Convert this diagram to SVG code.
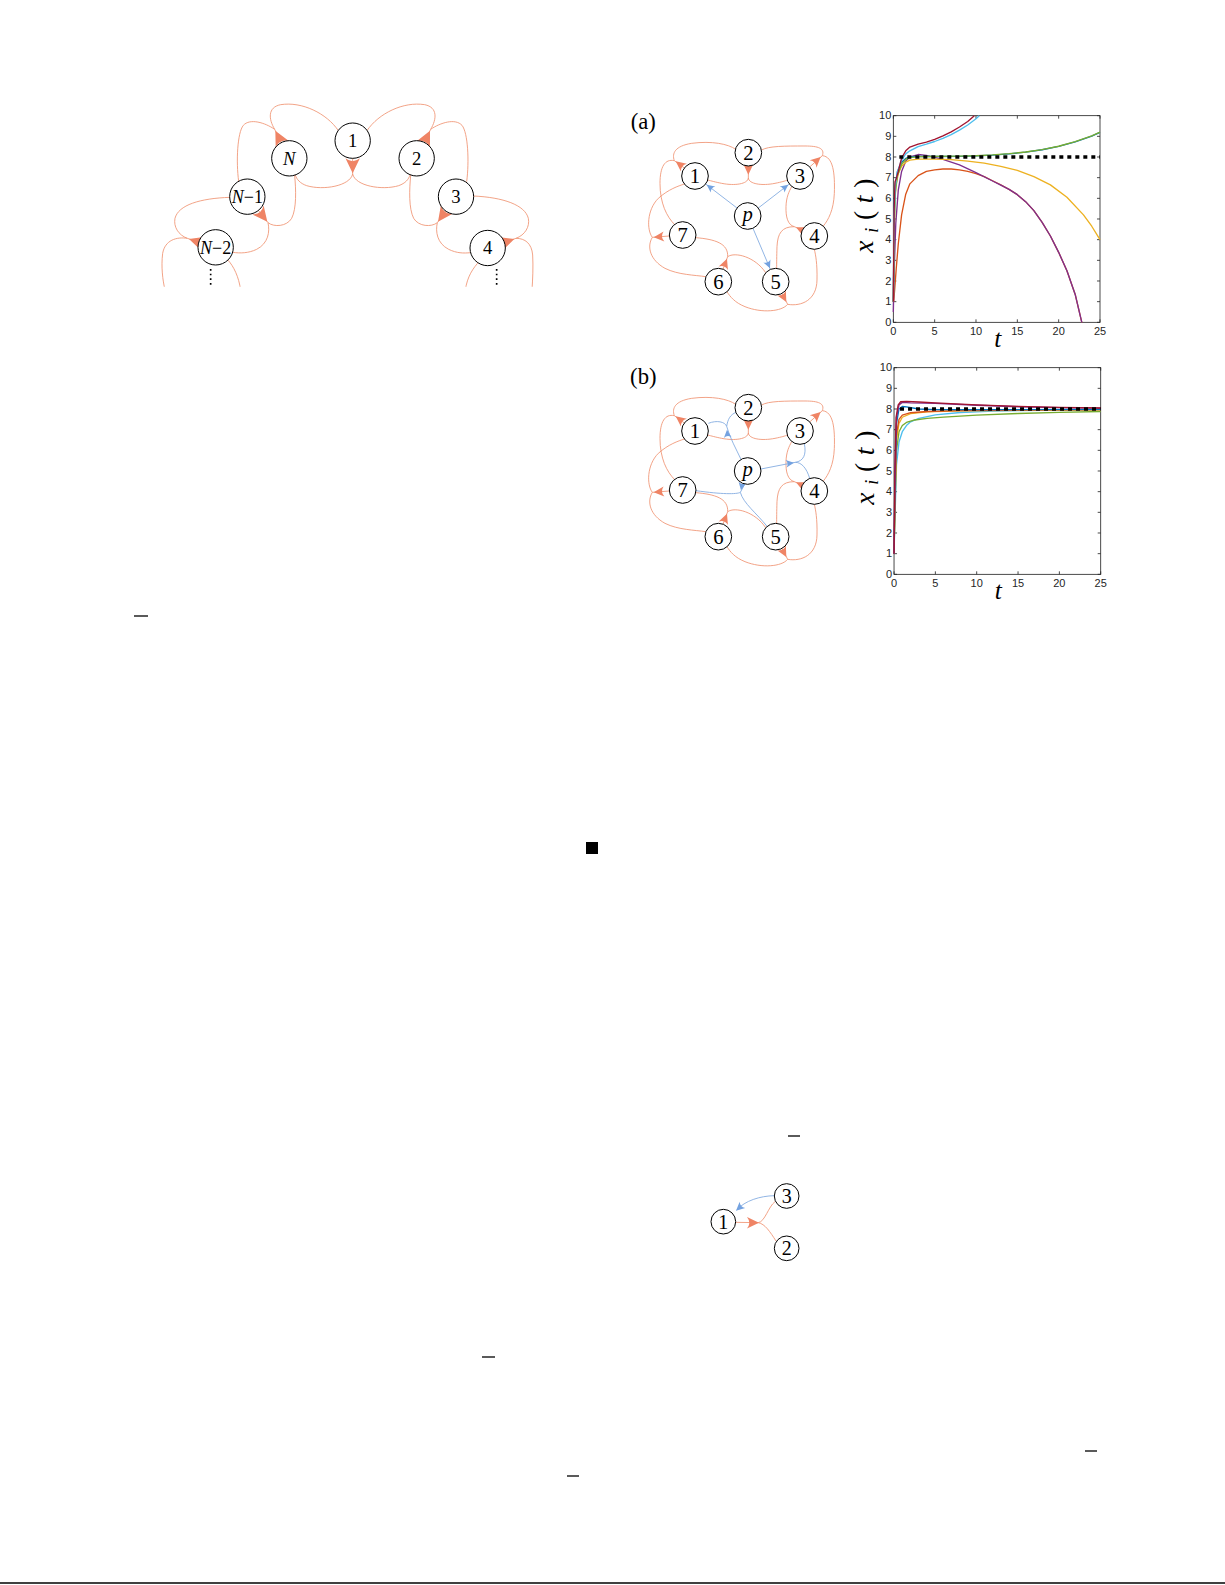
<svg xmlns="http://www.w3.org/2000/svg" xmlns:xlink="http://www.w3.org/1999/xlink" width="1225" height="1585" viewBox="0 0 1225 1585">
<style>
.oe{fill:none;stroke:#F09474;stroke-width:2.6}
.be{fill:none;stroke:#80A9E0;stroke-width:2.6}
.oa{fill:#EF8465}
.ba{fill:#74A2E0}
.nd{fill:#fff;stroke:#000;stroke-width:3}
.nl{font-family:"Liberation Serif","DejaVu Serif",serif;fill:#000;text-anchor:middle}
.it{font-style:italic}
.tk{font-family:"Liberation Sans",Arial,sans-serif;font-size:33px;fill:#262626}
.ax{fill:none;stroke:#262626;stroke-width:2.5}
.dt{fill:none;stroke:#000;stroke-width:10;stroke-dasharray:12 12}
.pl{fill:none;stroke-width:4;stroke-linejoin:round}
.vd{fill:none;stroke:#000;stroke-width:5;stroke-dasharray:5 9}
.mk{stroke:#000;stroke-width:1.3}
</style>
<defs>
<path id="ah" d="M0,0 L-1,-0.48 Q-0.62,0 -1,0.48 Z"/>
<clipPath id="c1" clipPathUnits="userSpaceOnUse"><rect x="-60" y="-60" width="1300" height="650"/></clipPath>
<g id="yt">
<path class="ax" d="M145,652 h9 M145,590 h9 M145,528 h9 M145,466 h9 M145,404 h9 M145,342 h9 M145,280 h9 M145,218 h9 M145,156 h9 M145,94 h9 M145,32 h9 M765,652 h-9 M765,590 h-9 M765,528 h-9 M765,466 h-9 M765,404 h-9 M765,342 h-9 M765,280 h-9 M765,218 h-9 M765,156 h-9 M765,94 h-9 M765,32 h-9 M145,652 v-9 M269,652 v-9 M393,652 v-9 M517,652 v-9 M641,652 v-9 M765,652 v-9 M145,32 v9 M269,32 v9 M393,32 v9 M517,32 v9 M641,32 v9 M765,32 v9"/>
<rect class="ax" x="145" y="32" width="620" height="620"/>
<g class="tk" text-anchor="end">
<text x="139" y="663">0</text><text x="139" y="601">1</text><text x="139" y="539">2</text><text x="139" y="477">3</text><text x="139" y="415">4</text><text x="139" y="353">5</text><text x="139" y="291">6</text><text x="139" y="229">7</text><text x="139" y="167">8</text><text x="139" y="105">9</text><text x="139" y="43">10</text>
</g>
<g class="tk" text-anchor="middle">
<text x="145" y="690">0</text><text x="269" y="690">5</text><text x="393" y="690">10</text><text x="517" y="690">15</text><text x="641" y="690">20</text><text x="765" y="690">25</text>
</g>
<text class="nl" font-size="82" transform="translate(84,332) rotate(-90)" textLength="222" lengthAdjust="spacing"><tspan class="it">x</tspan><tspan class="it" font-size="54" dy="14">i</tspan><tspan dy="-14">(</tspan><tspan class="it">t</tspan>)</text>
<text class="nl it" font-size="76" x="458" y="726">t</text>
</g>
</defs>

<!-- ===== Figure 1: ring hypergraph ===== -->
<g id="fig1" transform="translate(150,90) scale(0.33333)">
<g id="fig1-connectors" clip-path="url(#c1)">
<path class="oe" d="M608,205 L608,252 M608,252 C600,288 520,302 470,287 C450,280 440,268 436,255 M608,252 C616,288 696,302 746,287 C766,280 776,268 780,255"/>
<path class="oe" d="M394,158 L374,118 M374,118 C356,88 352,52 392,44 C456,34 530,70 565,122 M374,118 C345,98 300,84 280,106 C262,128 258,215 266,274"/>
<path class="oe" d="M823,157 L842,118 M842,118 C860,88 864,52 824,44 C760,34 686,70 651,122 M842,118 C871,98 916,84 936,106 C954,128 958,215 950,275"/>
<path class="oe" d="M325,361 L354,398 M354,398 C372,412 410,410 425,385 C440,355 438,300 434,256 M354,398 C360,425 355,460 320,478 C295,490 270,490 248,487"/>
<path class="oe" d="M887,363 L862,398 M862,398 C844,412 806,410 791,385 C776,355 778,300 782,256 M862,398 C856,425 861,460 896,478 C921,490 940,490 962,488"/>
<path class="oe" d="M146,456 L112,445 M112,445 C85,435 70,410 75,385 C85,345 150,325 240,322 M112,445 C80,440 45,450 38,490 C33,530 38,570 45,600"/>
<path class="oe" d="M1063,457 L1098,445 M1098,445 C1125,435 1140,410 1135,385 C1125,345 1060,322 970,318 M1098,445 C1125,445 1145,460 1148,495 C1150,530 1148,570 1146,600"/>
<path class="oe" d="M232,508 C252,530 266,560 272,600 M990,512 C968,535 952,560 946,600"/>
<use href="#ah" class="oa" transform="translate(608,250) rotate(90) scale(45)"/>
<use href="#ah" class="oa" transform="translate(376,122) rotate(-116.8) scale(45)"/>
<use href="#ah" class="oa" transform="translate(840,122) rotate(-64.2) scale(45)"/>
<use href="#ah" class="oa" transform="translate(352,395) rotate(51.5) scale(45)"/>
<use href="#ah" class="oa" transform="translate(864,395) rotate(125.7) scale(45)"/>
<use href="#ah" class="oa" transform="translate(117,447) rotate(197.6) scale(45)"/>
<use href="#ah" class="oa" transform="translate(1093,447) rotate(-18.8) scale(45)"/>
<path class="vd" d="M182,537 L182,595 M1040,537 L1040,595"/>
</g>
<g id="fig1-node-1"><circle class="nd" cx="608" cy="152" r="53"/><text class="nl" font-size="56" x="608" y="171">1</text></g>
<g id="fig1-node-N"><circle class="nd" cx="418" cy="205" r="53"/><text class="nl it" font-size="56" x="418" y="224">N</text></g>
<g id="fig1-node-2"><circle class="nd" cx="800" cy="205" r="53"/><text class="nl" font-size="56" x="800" y="224">2</text></g>
<g id="fig1-node-Nm1"><circle class="nd" cx="292" cy="320" r="53"/><text class="nl" font-size="54" x="292" y="339"><tspan class="it">N</tspan>−1</text></g>
<g id="fig1-node-3"><circle class="nd" cx="918" cy="320" r="53"/><text class="nl" font-size="56" x="918" y="339">3</text></g>
<g id="fig1-node-Nm2"><circle class="nd" cx="197" cy="472" r="53"/><text class="nl" font-size="54" x="197" y="491"><tspan class="it">N</tspan>−2</text></g>
<g id="fig1-node-4"><circle class="nd" cx="1013" cy="474" r="53"/><text class="nl" font-size="56" x="1013" y="493">4</text></g>
</g>

<!-- ===== Figure (a) graph ===== -->
<g id="figa-graph" transform="translate(615,100) scale(0.33333)">
<text class="nl" font-size="68" x="85" y="88">(a)</text>
<g id="figa-connectors">
<path class="oe" d="M208,204 L178,182 M178,182 C170,160 180,138 230,130 C290,122 340,132 362,148 M178,182 C150,176 135,200 135,250 C135,310 155,350 180,375"/>
<path class="oe" d="M400,198 L400,234 M400,234 C398,252 360,258 320,250 C300,246 290,243 278,240 M400,234 C402,252 440,258 480,250 C500,246 510,243 518,240"/>
<path class="oe" d="M584,201 L622,167 M622,167 C630,145 610,138 570,138 C510,138 460,138 440,150 M622,167 C655,170 660,220 658,280 C656,330 640,360 625,378"/>
<path class="oe" d="M562,391 L538,380 M538,380 C518,375 512,350 513,320 C514,290 522,275 530,260 M538,380 C500,380 488,400 486,440 C485,470 485,490 485,505"/>
<path class="oe" d="M501,580 L518,613 M518,613 C560,620 605,600 606,540 C607,490 602,465 598,448 M518,613 C500,635 440,640 390,620 C360,608 345,590 336,575"/>
<path class="oe" d="M324,508 L338,470 M338,470 C340,430 300,418 243,413 M338,470 C360,455 420,470 452,518"/>
<path class="oe" d="M163,408 L112,412 M112,412 C95,390 95,330 130,295 C160,268 190,258 208,252 M112,412 C95,440 105,480 150,505 C190,525 240,525 272,530"/>
<use href="#ah" class="oa" transform="translate(182,184) rotate(217.2) scale(31)"/>
<use href="#ah" class="oa" transform="translate(400,224) rotate(90) scale(31)"/>
<use href="#ah" class="oa" transform="translate(617,171) rotate(-42.6) scale(31)"/>
<use href="#ah" class="oa" transform="translate(543,382) rotate(205) scale(31)"/>
<use href="#ah" class="oa" transform="translate(514,606) rotate(62) scale(31)"/>
<use href="#ah" class="oa" transform="translate(336,476) rotate(-69) scale(31)"/>
<use href="#ah" class="oa" transform="translate(116,412) rotate(175.4) scale(31)"/>
<path class="be" d="M366,324 L272,252 M430,324 L523,252 M414,385 L466,508"/>
<use href="#ah" class="ba" transform="translate(275,254) rotate(217.2) scale(24)"/>
<use href="#ah" class="ba" transform="translate(520,254) rotate(-37.4) scale(24)"/>
<use href="#ah" class="ba" transform="translate(465,505) rotate(66.9) scale(24)"/>
</g>
<g id="figa-node-2"><circle class="nd" cx="400" cy="158" r="40"/><text class="nl" font-size="62" x="400" y="180">2</text></g>
<g id="figa-node-1"><circle class="nd" cx="240" cy="228" r="40"/><text class="nl" font-size="62" x="240" y="250">1</text></g>
<g id="figa-node-3"><circle class="nd" cx="555" cy="228" r="40"/><text class="nl" font-size="62" x="555" y="250">3</text></g>
<g id="figa-node-p"><circle class="nd" cx="398" cy="348" r="40"/><text class="nl it" font-size="62" x="398" y="364">p</text></g>
<g id="figa-node-7"><circle class="nd" cx="203" cy="405" r="40"/><text class="nl" font-size="62" x="203" y="427">7</text></g>
<g id="figa-node-4"><circle class="nd" cx="598" cy="408" r="40"/><text class="nl" font-size="62" x="598" y="430">4</text></g>
<g id="figa-node-6"><circle class="nd" cx="310" cy="545" r="40"/><text class="nl" font-size="62" x="310" y="567">6</text></g>
<g id="figa-node-5"><circle class="nd" cx="482" cy="545" r="40"/><text class="nl" font-size="62" x="482" y="567">5</text></g>
</g>

<!-- ===== Figure (b) graph ===== -->
<g id="figb-graph" transform="translate(615,355) scale(0.33333)">
<text class="nl" font-size="68" x="85" y="88">(b)</text>
<g id="figb-connectors">
<path class="oe" d="M208,204 L178,182 M178,182 C170,160 180,138 230,130 C290,122 340,132 362,148 M178,182 C150,176 135,200 135,250 C135,310 155,350 180,375"/>
<path class="oe" d="M400,198 L400,234 M400,234 C398,252 360,258 320,250 C300,246 290,243 278,240 M400,234 C402,252 440,258 480,250 C500,246 510,243 518,240"/>
<path class="oe" d="M584,201 L622,167 M622,167 C630,145 610,138 570,138 C510,138 460,138 440,150 M622,167 C655,170 660,220 658,280 C656,330 640,360 625,378"/>
<path class="oe" d="M562,391 L538,380 M538,380 C518,375 512,350 513,320 C514,290 522,275 530,260 M538,380 C500,380 488,400 486,440 C485,470 485,490 485,505"/>
<path class="oe" d="M501,580 L518,613 M518,613 C560,620 605,600 606,540 C607,490 602,465 598,448 M518,613 C500,635 440,640 390,620 C360,608 345,590 336,575"/>
<path class="oe" d="M324,508 L338,470 M338,470 C340,430 300,418 243,413 M338,470 C360,455 420,470 452,518"/>
<path class="oe" d="M163,408 L112,412 M112,412 C95,390 95,330 130,295 C160,268 190,258 208,252 M112,412 C95,440 105,480 150,505 C190,525 240,525 272,530"/>
<use href="#ah" class="oa" transform="translate(182,184) rotate(217.2) scale(31)"/>
<use href="#ah" class="oa" transform="translate(400,224) rotate(90) scale(31)"/>
<use href="#ah" class="oa" transform="translate(617,171) rotate(-42.6) scale(31)"/>
<use href="#ah" class="oa" transform="translate(543,382) rotate(205) scale(31)"/>
<use href="#ah" class="oa" transform="translate(514,606) rotate(62) scale(31)"/>
<use href="#ah" class="oa" transform="translate(336,476) rotate(-69) scale(31)"/>
<use href="#ah" class="oa" transform="translate(116,412) rotate(175.4) scale(31)"/>
<path class="be" d="M378,313 C365,285 345,250 335,214 M335,214 C330,200 305,195 280,205 M335,214 C338,195 345,178 364,172"/>
<path class="be" d="M438,342 L541,322 M541,322 C565,318 575,300 568,266 M541,322 C560,322 575,340 584,370"/>
<path class="be" d="M390,386 L376,412 M376,412 C365,418 320,418 243,407 M376,412 C385,445 425,475 457,515"/>
<use href="#ah" class="ba" transform="translate(336,224) rotate(-95) scale(24)"/>
<use href="#ah" class="ba" transform="translate(537,323) rotate(-8) scale(24)"/>
<use href="#ah" class="ba" transform="translate(378,406) rotate(100) scale(24)"/>
</g>
<g id="figb-node-2"><circle class="nd" cx="400" cy="158" r="40"/><text class="nl" font-size="62" x="400" y="180">2</text></g>
<g id="figb-node-1"><circle class="nd" cx="240" cy="228" r="40"/><text class="nl" font-size="62" x="240" y="250">1</text></g>
<g id="figb-node-3"><circle class="nd" cx="555" cy="228" r="40"/><text class="nl" font-size="62" x="555" y="250">3</text></g>
<g id="figb-node-p"><circle class="nd" cx="398" cy="348" r="40"/><text class="nl it" font-size="62" x="398" y="364">p</text></g>
<g id="figb-node-7"><circle class="nd" cx="203" cy="405" r="40"/><text class="nl" font-size="62" x="203" y="427">7</text></g>
<g id="figb-node-4"><circle class="nd" cx="598" cy="408" r="40"/><text class="nl" font-size="62" x="598" y="430">4</text></g>
<g id="figb-node-6"><circle class="nd" cx="310" cy="545" r="40"/><text class="nl" font-size="62" x="310" y="567">6</text></g>
<g id="figb-node-5"><circle class="nd" cx="482" cy="545" r="40"/><text class="nl" font-size="62" x="482" y="567">5</text></g>
</g>

<!-- ===== Plot (a) ===== -->
<g id="plot-a" transform="translate(845,105) scale(0.33333)">
<use href="#yt"/>
<polyline class="pl" stroke="#D95319" points="146.2,590 150,540.4 153.7,490.8 159.9,416.4 169.8,329.6 182.2,267.6 194.6,236.6 219.4,211.8 244.2,199.4 269,194.4 293.8,192 318.6,192 343.4,194.4 368.2,199.4 393,205.6 417.8,214.9 442.6,227.3 467.4,239.7 492.2,253 517,269 541.8,290 566.6,317 591.4,352 616.2,393 641,442 665.8,497 690.6,568.3 710.4,652"/>
<polyline class="pl" stroke="#7E2F8E" points="145,621 147.5,497 152.4,354.4 159.9,255.2 169.8,199.4 182.2,168.4 194.6,156 219.4,148.6 244.2,151 269,157.2 293.8,163.4 343.4,179.6 393,203 442.6,228 467.4,240.5 492.2,253 517,269 541.8,290 566.6,317 591.4,352 616.2,393 641,442 665.8,497 690.6,568.3 710.4,652"/>
<polyline class="pl" stroke="#EDB120" points="145,590 148.7,311 152.4,242.8 159.9,205.6 169.8,183.9 182.2,171.5 194.6,165.3 219.4,162.2 269,162.2 318.6,164.1 368.2,168.4 417.8,174.6 467.4,183.9 517,196.3 566.6,214.9 616.2,239.7 665.8,276.9 715.4,329.6 740.2,363.7 765,404"/>
<polyline class="pl" stroke="#0072BD" points="145,590 147.5,292.4 151.2,236.6 157.4,199.4 169.8,171.5 182.2,160.3 194.6,156 219.4,154.1 269,154.6 343.4,154 393,152.8 442.6,150.3 492.2,146.6 541.8,141.6 591.4,134.2 641,124.3 690.6,110.6 740.2,93.3 765,82.1"/>
<polyline class="pl" stroke="#77AC30" points="145,590 147.5,373 151.2,261.4 157.4,211.8 169.8,177.7 182.2,163.4 194.6,157.9 219.4,154.8 269,154.1 343.4,153.5 393,152.3 442.6,149.8 492.2,146.1 541.8,141.1 591.4,133.7 641,123.8 690.6,110.1 740.2,92.8 765,81.6"/>
<polyline class="pl" stroke="#4DBEEE" points="145,590 147.5,342 151.2,242.8 157.4,199.4 169.8,165.3 182.2,146.7 194.6,137.4 219.4,125 244.2,117.6 269,109.5 293.8,100.2 318.6,89 343.4,75.4 368.2,59.9 393,41.3 402.9,32"/>
<polyline class="pl" stroke="#A2142F" points="145,590 147.5,311 150,230.4 153.7,221.1 159.9,199.4 169.8,159.1 182.2,137.4 194.6,126.2 219.4,117.6 244.2,111.4 269,103.3 293.8,92.8 318.6,80.4 343.4,66.1 368.2,49.4 388,32"/>
<line class="dt" x1="163" y1="156" x2="765" y2="156"/>
</g>

<!-- ===== Plot (b) ===== -->
<g id="plot-b" transform="translate(845.7,357) scale(0.33333)">
<use href="#yt"/>
<polyline class="pl" stroke="#4DBEEE" points="145,590 147.5,497 152.4,323.4 159.9,255.2 169.8,224.2 182.2,205.6 194.6,194.4 219.4,183.9 269,173.4 343.4,166.5 442.6,162.2 591.4,159.7 765,158.5"/>
<polyline class="pl" stroke="#77AC30" points="145,590 147.5,466 152.4,280 159.9,224.2 169.8,205.6 182.2,196.3 207,188.9 244.2,183.9 293.8,180.2 393,174.6 517,169.6 641,165.9 765,163.4"/>
<polyline class="pl" stroke="#EDB120" points="145,590 147.5,453.6 152.4,249 159.9,199.4 169.8,180.8 194.6,169.6 244.2,164.7 343.4,161.6 517,159.7 765,158.5"/>
<polyline class="pl" stroke="#D95319" points="145,590 147.5,435 152.4,230.4 159.9,187 169.8,174.6 194.6,167.2 244.2,163.4 343.4,161 517,159.1 765,157.9"/>
<polyline class="pl" stroke="#0072BD" points="145,590 147.5,404 152.4,199.4 159.9,156 169.8,148.6 182.2,149.8 219.4,156 269,157.9 393,157.9 765,157.2"/>
<polyline class="pl" stroke="#7E2F8E" points="145,590 147.5,373 152.4,180.8 159.9,143.6 169.8,136.2 194.6,137.4 269,139.3 393,144.8 517,149.2 641,151.7 765,153.5"/>
<polyline class="pl" stroke="#A2142F" points="145,590 147.5,342 151.2,180.8 157.4,143.6 164.8,134.3 182.2,133.1 219.4,134.9 269,137.4 393,143.6 517,148 641,151 765,152.9"/>
<line class="dt" x1="163" y1="156" x2="765" y2="156"/>
</g>

<!-- ===== Small hypergraph ===== -->
<g id="small-graph" transform="translate(690,1160) scale(0.33333)">
<g id="small-connectors">
<path class="oe" d="M137,187 L205,188 M205,188 C225,185 235,140 255,125 M205,188 C225,192 240,215 258,243"/>
<use href="#ah" class="oa" transform="translate(207,188) rotate(0) scale(36)"/>
<path class="be" d="M253,107 C210,108 165,122 140,150"/>
<use href="#ah" class="ba" transform="translate(138,152) rotate(138) scale(26)"/>
</g>
<g id="small-node-1"><circle class="nd" cx="100" cy="185" r="37"/><text class="nl" font-size="60" x="100" y="206">1</text></g>
<g id="small-node-3"><circle class="nd" cx="290" cy="108" r="37"/><text class="nl" font-size="60" x="290" y="129">3</text></g>
<g id="small-node-2"><circle class="nd" cx="290" cy="265" r="37"/><text class="nl" font-size="60" x="290" y="286">2</text></g>
</g>

<!-- ===== stray marks ===== -->
<g id="marks">
<line class="mk" x1="134" y1="616" x2="148" y2="616"/>
<rect x="586" y="842" width="12" height="12" fill="#000"/>
<line class="mk" x1="482" y1="1357" x2="495" y2="1357"/>
<line class="mk" x1="788" y1="1136" x2="800" y2="1136"/>
<line class="mk" x1="1085" y1="1451" x2="1097" y2="1451"/>
<line class="mk" x1="567" y1="1476" x2="579" y2="1476"/>
<line class="mk" x1="0" y1="1583" x2="1225" y2="1583"/>
</g>
</svg>
